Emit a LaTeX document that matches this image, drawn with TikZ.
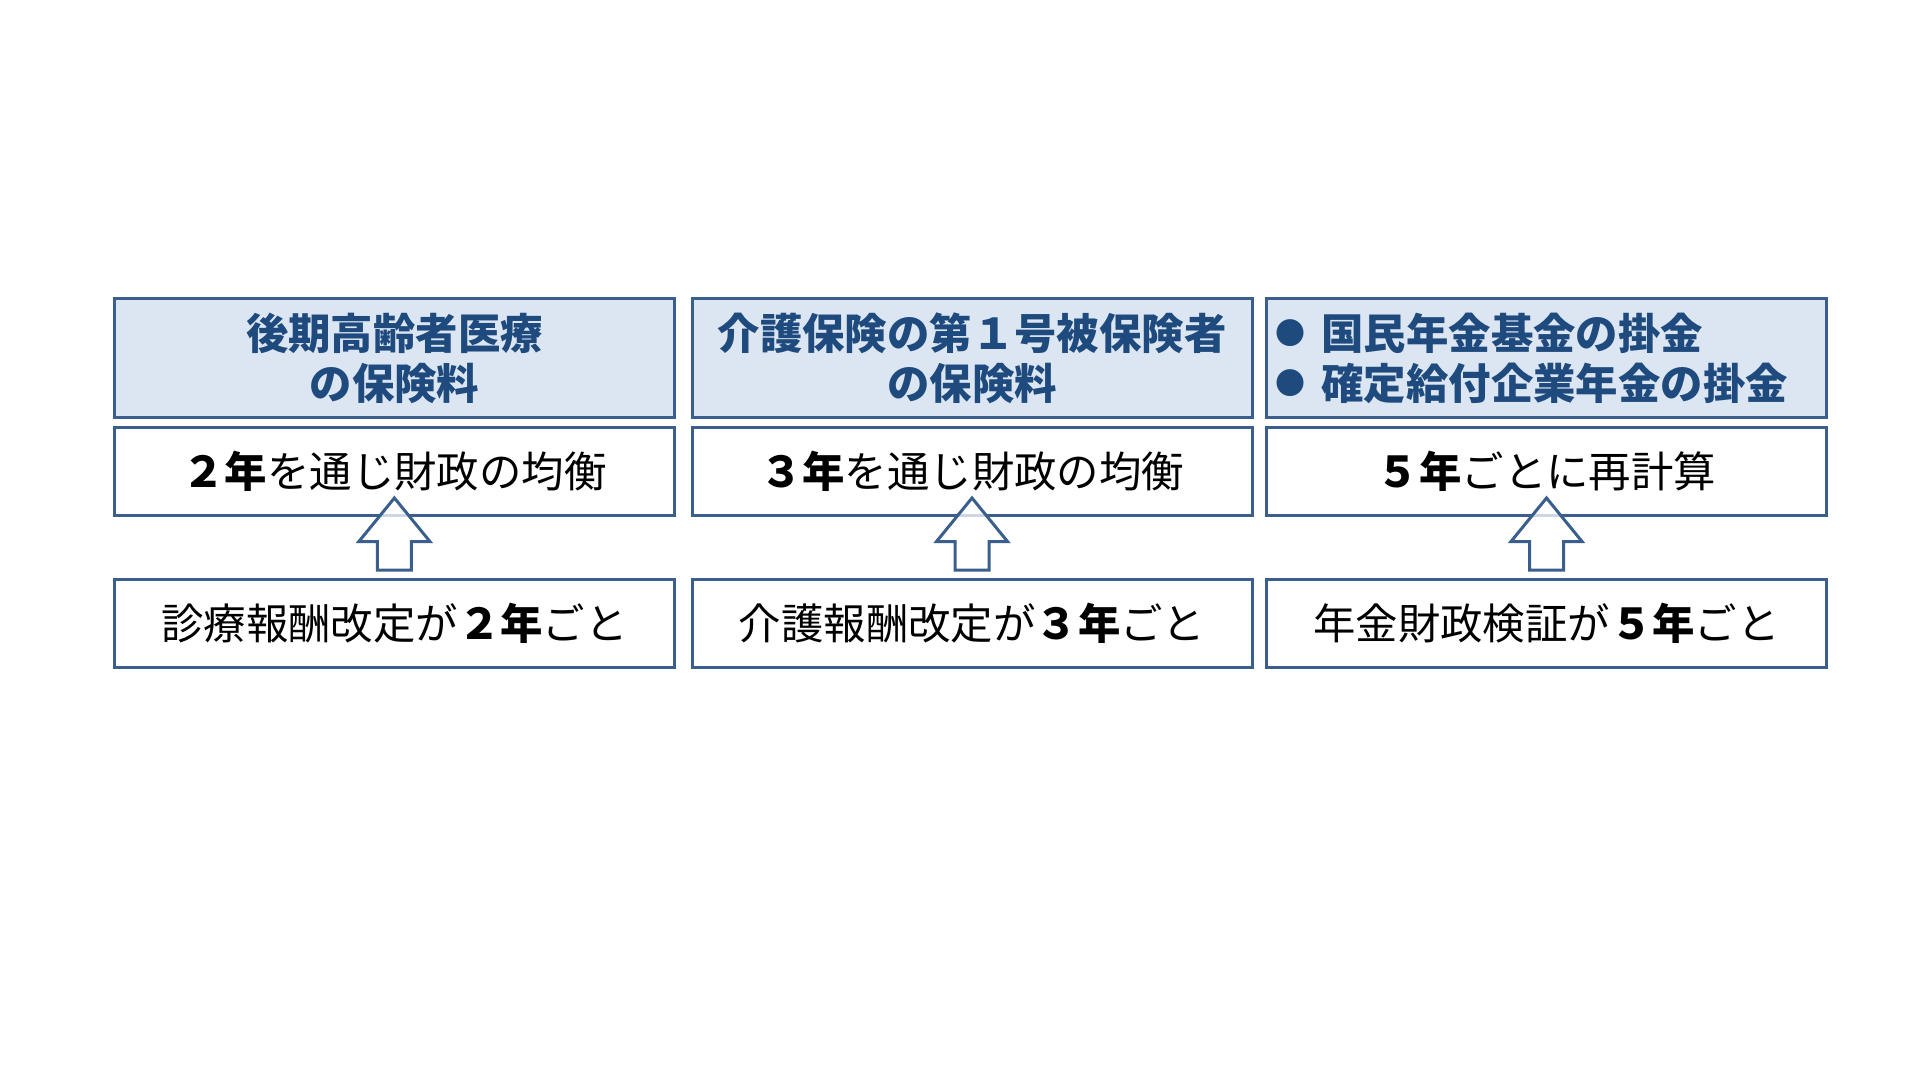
\documentclass[tikz,border=0pt]{standalone}
\usepackage{fontspec}
\setmainfont{Noto Sans CJK JP}
\usetikzlibrary{calc}
\definecolor{bordc}{HTML}{3B5F8C}
\definecolor{headfill}{HTML}{DCE6F2}
\definecolor{headtxt}{HTML}{1F4A7E}
\newcommand{\mybul}{\raisebox{2.2pt}{\fontsize{15pt}{15pt}\selectfont ●}\hspace{8pt}}
\tikzset{
  box/.style={draw=bordc, line width=1.5pt, minimum width=280pt, minimum height=44pt, inner sep=0pt, fill=white,
    font=\fontsize{21.2pt}{25pt}\selectfont, text=black},
  headbox/.style={box, fill=headfill, minimum height=59pt, font=\fontsize{21.2pt}{25pt}\selectfont\bfseries, text=headtxt, align=center},
  barrow/.style={draw=bordc, line width=1.5pt, fill=white, fill opacity=0.75, line join=miter},
}
\begin{document}
\begin{tikzpicture}[x=0.5pt,y=-0.5pt]
\useasboundingbox (0,0) rectangle (1920,1080);
% column 1
\node[headbox] (h1) at (394.4,358) {後期高齢者医療\\の保険料};
\node[box] (m1) at (394.4,471.5) {\textbf{２年}を通じ財政の均衡};
\node[box] (b1) at (394.4,623.5) {診療報酬改定が\textbf{２年}ごと};
% column 2
\node[headbox] (h2) at (972,358) {介護保険の第１号被保険者\\の保険料};
\node[box] (m2) at (972,471.5) {\textbf{３年}を通じ財政の均衡};
\node[box] (b2) at (972,623.5) {介護報酬改定が\textbf{３年}ごと};
% column 3
\node[headbox] (h3) at (1546.5,358) {};
\node[anchor=west, inner sep=0pt, font=\fontsize{21.2pt}{25pt}\selectfont\bfseries, text=headtxt, align=left] (h3t) at ($(h3.west)+(10,0)$) {\mybul 国民年金基金の掛金\\\mybul 確定給付企業年金の掛金};
\node[box] (m3) at (1546.5,471.5) {\textbf{５年}ごとに再計算};
\node[box] (b3) at (1546.5,623.5) {年金財政検証が\textbf{５年}ごと};
% arrows
\foreach \b in {b1,b2,b3}{
  \draw[barrow] ($(\b.north)+(-17,-8)$) -- ($(\b.north)+(-17,-36.5)$) -- ($(\b.north)+(-35.5,-36.5)$)
    -- ($(\b.north)+(0,-80)$) -- ($(\b.north)+(35.5,-36.5)$) -- ($(\b.north)+(17,-36.5)$)
    -- ($(\b.north)+(17,-8)$) -- cycle;
}
\end{tikzpicture}
\end{document}
